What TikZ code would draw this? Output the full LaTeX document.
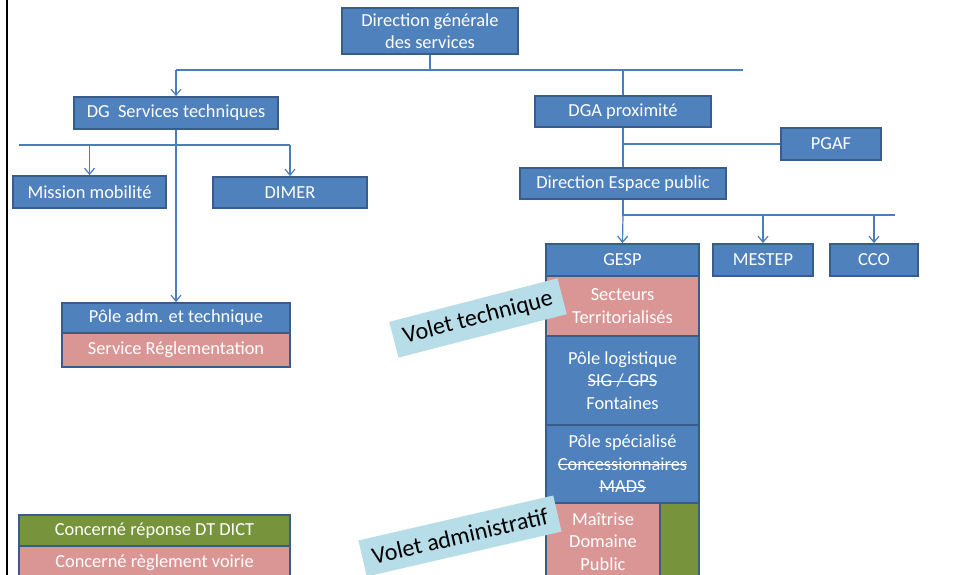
\documentclass[tikz,border=0pt]{standalone}
\usepackage{fontspec}
\setmainfont{Carlito}
\usetikzlibrary{arrows.meta}
\newsavebox\strkbox
\newcommand\strk[1]{\sbox\strkbox{#1}\rlap{\raisebox{0.55ex}{\rule{\wd\strkbox}{1.3pt}}}\usebox\strkbox}
\definecolor{blu}{HTML}{4F81BD}
\definecolor{bordc}{HTML}{385D8A}
\definecolor{pnk}{HTML}{D99694}
\definecolor{grn}{HTML}{77933C}
\definecolor{lblue}{HTML}{B7DDE8}
\definecolor{linec}{HTML}{4A7EBB}
\begin{document}
\begin{tikzpicture}[x=1pt,y=-1pt,
  box/.style={draw=bordc, fill=blu, line width=1.8pt, text=white, inner sep=0pt, align=center, font=\fontsize{18.4}{22.5}\selectfont},
  pinkbox/.style={box, fill=pnk},
  greenbox/.style={box, fill=grn},
  conn/.style={draw=linec, line width=1.2pt},
  arr/.style={conn, -{Straight Barb[length=6pt,width=10pt]}},
  volet/.style={fill=lblue, text=black, font=\fontsize{24}{28}\selectfont, minimum height=37pt, inner xsep=10pt, inner ysep=0pt}
]
\useasboundingbox (0,0) rectangle (953,575);
\draw[line width=2pt] (7,0) -- (7,575);

% top level
\node[box, minimum width=176pt, minimum height=46pt] (dgs) at (430,31) {Direction générale\\des services};
\node[box, minimum width=204pt, minimum height=32pt] (dgst) at (176,113) {DG~ Services techniques};
\node[box, minimum width=176pt, minimum height=31pt] (dga) at (623,111.5) {DGA proximité};
\node[box, minimum width=100pt, minimum height=32pt] (pgaf) at (831,144) {PGAF};
\node[box, minimum width=206pt, minimum height=31pt] (dep) at (623,183.5) {Direction Espace public};

% left branch
\node[box, minimum width=153pt, minimum height=32pt] (mm) at (89.5,192) {Mission mobilité};
\node[box, minimum width=154pt, minimum height=31pt] (dimer) at (290,192.5) {DIMER};
\node[box, minimum width=228pt, minimum height=30pt] (pat) at (176,318) {Pôle adm. et technique};
\node[pinkbox, minimum width=228pt, minimum height=34pt] (sr) at (176,350) {Service Réglementation};

% GESP column
\node[box, minimum width=153pt, minimum height=32pt] (gesp) at (622.5,260) {GESP};
\node[pinkbox, minimum width=153pt, minimum height=60pt] (sect) at (622.5,306) {Secteurs\\Territorialisés};
\node[box, minimum width=153pt, minimum height=89pt] (plog) at (622.5,380.5) {Pôle logistique\\\strk{SIG / GPS}\\Fontaines};
\node[box, minimum width=153pt, minimum height=78pt] (pspec) at (622.5,464) {Pôle spécialisé\\\strk{Concessionnaires}\\\strk{MADS}};
\node[pinkbox, minimum width=114pt, minimum height=77pt] (mait) at (603,541.5) {Maîtrise\\Domaine\\Public};
\node[greenbox, minimum width=39pt, minimum height=77pt] (mgrn) at (679.5,541.5) {};

\node[box, minimum width=100pt, minimum height=32pt] (mestep) at (763,260) {MESTEP};
\node[box, minimum width=88pt, minimum height=32pt] (cco) at (874,260) {CCO};

% legend
\node[greenbox, minimum width=271pt, minimum height=31pt] (leg1) at (154.5,530.5) {Concerné réponse DT DICT};
\node[pinkbox, minimum width=271pt, minimum height=34pt] (leg2) at (154.5,563) {Concerné règlement voirie};

% connectors
\coordinate (h1a) at (176,70);
\coordinate (h1b) at (743,70);
\draw[conn] (h1a) -- (h1b);
\draw[conn] (dgs.south) -- (dgs.south |- h1a);
\draw[arr] (h1a) -- (dgst.north);
\draw[conn] (dga.north |- h1a) -- (dga.north);

\coordinate (h2a) at (19,145);
\coordinate (h2b) at (290,145);
\draw[conn] (h2a) -- (h2b);
\draw[arr] (mm.north |- h2a) -- (mm.north);
\draw[arr] (h2b) -- (dimer.north);
\draw[arr] (dgst.south) -- (pat.north);

\draw[conn] (dga.south) -- (dep.north);
\draw[conn] (dga.south |- pgaf.west) -- (pgaf.west);

\coordinate (h3a) at (623,215);
\coordinate (h3b) at (895,215);
\draw[conn] (dep.south) -- (h3a) -- (h3b);
\draw[arr] (h3a) -- (gesp.north);
\draw[arr] (mestep.north |- h3a) -- (mestep.north);
\draw[arr] (cco.north |- h3a) -- (cco.north);

% labels
\node[volet, rotate=14.5] (vt) at (478,318) {Volet technique};
\node[volet, rotate=13] (va) at (460,536) {Volet administratif};
\end{tikzpicture}
\end{document}
